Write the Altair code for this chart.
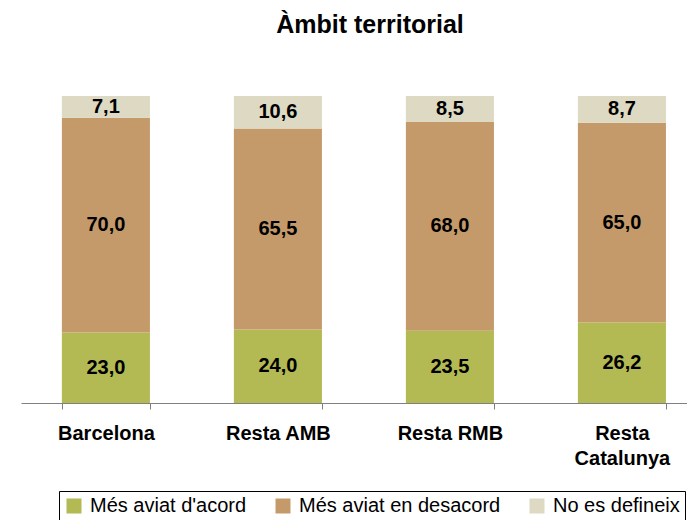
import altair as alt
import pandas as pd

categories = ["Barcelona", "Resta AMB", "Resta RMB", "Resta Catalunya"]
series = ["Més aviat d'acord", "Més aviat en desacord", "No es defineix"]
acord = [23.0, 24.0, 23.5, 26.2]
desacord = [70.0, 65.5, 68.0, 65.0]
no_defineix = [7.1, 10.6, 8.5, 8.7]
colors = ["#B3B953", "#C49A6A", "#DDD9C3"]

rows = []
for i, c in enumerate(categories):
    for j, (s, vals) in enumerate(zip(series, [acord, desacord, no_defineix])):
        rows.append({"cat": c, "serie": s, "ord": j, "v": vals[i]})
df = pd.DataFrame(rows)

FONT = "Liberation Sans"

base = alt.Chart(df).transform_stack(
    stack="v", groupby=["cat"], as_=["y0", "y1"], offset="normalize",
    sort=[alt.SortField("ord", order="ascending")]
).transform_calculate(
    mid="(datum.y0 + datum.y1) / 2",
    lab="replace(format(datum.v, '.1f'), '.', ',')"
)

xenc = alt.X("cat:N", sort=categories, title=None,
             scale=alt.Scale(paddingInner=0.488, paddingOuter=0.18, align=0.66),
             axis=alt.Axis(labelAngle=0, labelFont=FONT, labelFontSize=20, labelFontWeight="bold",
                           labelColor="black", labelPadding=14, labelLineHeight=25,
                           labelBaseline="top",
                           labelExpr="datum.value == 'Resta Catalunya' ? ['Resta', 'Catalunya'] : datum.value",
                           domainColor="#808080", tickColor="#808080", tickSize=6,
                           tickBand="extent", grid=False))

bars = base.mark_bar().encode(
    x=xenc,
    y=alt.Y("y0:Q", axis=None, scale=alt.Scale(domain=[0, 1])),
    y2="y1:Q",
    color=alt.Color("serie:N", sort=series,
                    scale=alt.Scale(domain=series, range=colors),
                    legend=alt.Legend(title=None, orient="none", legendX=38, legendY=395,
                                      direction="horizontal", columns=3,
                                      strokeColor="black", padding=5,
                                      symbolType="square", symbolSize=225, symbolStrokeWidth=0,
                                      labelFont=FONT, labelFontSize=20, labelColor="black",
                                      labelOffset=6, columnPadding=26, labelLimit=400))
)

texts = base.mark_text(font=FONT, fontSize=20, fontWeight="bold", color="black",
                       baseline="middle").encode(
    x=alt.X("cat:N", sort=categories),
    y=alt.Y("mid:Q"),
    text="lab:N"
)

chart = alt.layer(bars, texts).properties(
    width=666, height=307,
    padding={"left": 13, "top": 88, "right": 0, "bottom": 117},
    autosize=alt.AutoSizeParams(type="none"),
    title=alt.TitleParams("Àmbit territorial", font=FONT, fontSize=25, fontWeight="bold",
                          color="black", anchor="middle", dx=16, offset=38, baseline="alphabetic")
).configure_view(stroke=None)

chart.save("out.html", embed_options={"renderer": "svg", "actions": False})
